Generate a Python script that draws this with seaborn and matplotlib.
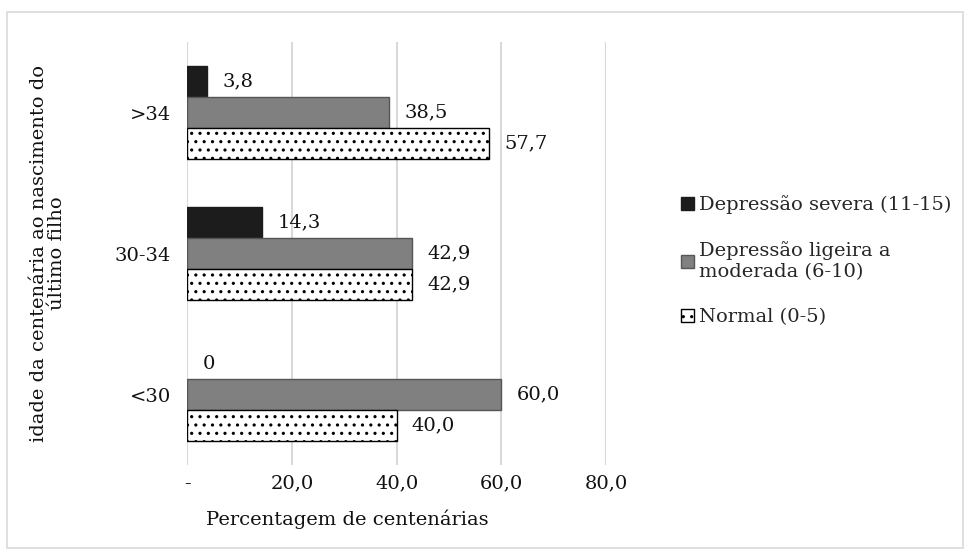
import seaborn as sns
import numpy as np
import pandas as pd
import matplotlib.pyplot as plt
from matplotlib.patches import Rectangle

# age groups (top to bottom) and series values (%)
ages = ['>34', '30-34', '<30']
series = ['Depressão severa (11-15)', 'Depressão ligeira a\nmoderada (6-10)', 'Normal (0-5)']
severa = [3.8, 14.3, 0.0]
ligeira = [38.5, 42.9, 60.0]
normal = [57.7, 42.9, 40.0]
x_ticks = [0, 20, 40, 60, 80]
x_ticklabels = ['-', '20,0', '40,0', '60,0', '80,0']

colors = ['#1c1c1c', '#808080', '#ffffff']
edges = ['#1c1c1c', '#555555', '#000000']
fs = 14

df = pd.DataFrame({
    'idade': ages * 3,
    'serie': [s for s in series for _ in ages],
    'valor': severa + ligeira + normal,
})

sns.set_style('white')
plt.rcParams['font.family'] = ['DejaVu Serif']
plt.rcParams['hatch.linewidth'] = 1.1

fig = plt.figure(figsize=(9.71, 5.55), dpi=100)
ax = fig.add_axes([0.193, 0.162, 0.431, 0.762])

sns.barplot(data=df, x='valor', y='idade', hue='serie', order=ages,
            hue_order=series, orient='h', palette=colors, width=0.66,
            saturation=1, ax=ax, legend=False)

for i, cont in enumerate(ax.containers):
    vals = [severa, ligeira, normal][i]
    for bar, v in zip(cont, vals):
        bar.set_edgecolor(edges[i])
        bar.set_linewidth(1.0 if v > 0 else 0)
        if i == 2:
            bar.set_hatch('..')
    labels = ['0' if v == 0 else f'{v:.1f}'.replace('.', ',') for v in vals]
    ax.bar_label(cont, labels=labels, padding=11, fontsize=fs, color='#111111')

ax.set_xlim(0, 80)
ax.set_xticks(x_ticks)
ax.set_xticklabels(x_ticklabels)
ax.grid(axis='x', color='#d9d9d9', linewidth=1.5)
ax.set_axisbelow(True)
for s in ax.spines.values():
    s.set_visible(False)
ax.tick_params(axis='both', length=0, labelsize=fs, colors='#111111')
ax.tick_params(axis='y', pad=12)
ax.tick_params(axis='x', pad=7)
ax.set_xlabel('Percentagem de centenárias', fontsize=fs, color='#111111')
ax.xaxis.set_label_coords(0.382, -0.106)
ax.set_ylabel('idade da centenária ao nascimento do\núltimo filho', fontsize=fs,
              color='#111111', linespacing=1.0)
ax.yaxis.set_label_coords(-0.29, 0.5)

handles = [Rectangle((0, 0), 1, 1, facecolor=colors[i], edgecolor=edges[i],
                     hatch='..' if i == 2 else None, linewidth=1.0) for i in range(3)]
fig.legend(handles, series, loc='center left', bbox_to_anchor=(0.683, 0.53),
           frameon=False, fontsize=fs, handlelength=0.7, handleheight=0.7,
           handletextpad=0.25, labelspacing=1.4)

fig.patches.append(Rectangle((0.007, 0.013), 0.985, 0.965, transform=fig.transFigure,
                             fill=False, edgecolor='#d9d9d9', linewidth=1.2))

plt.savefig('out.png', dpi=100)
